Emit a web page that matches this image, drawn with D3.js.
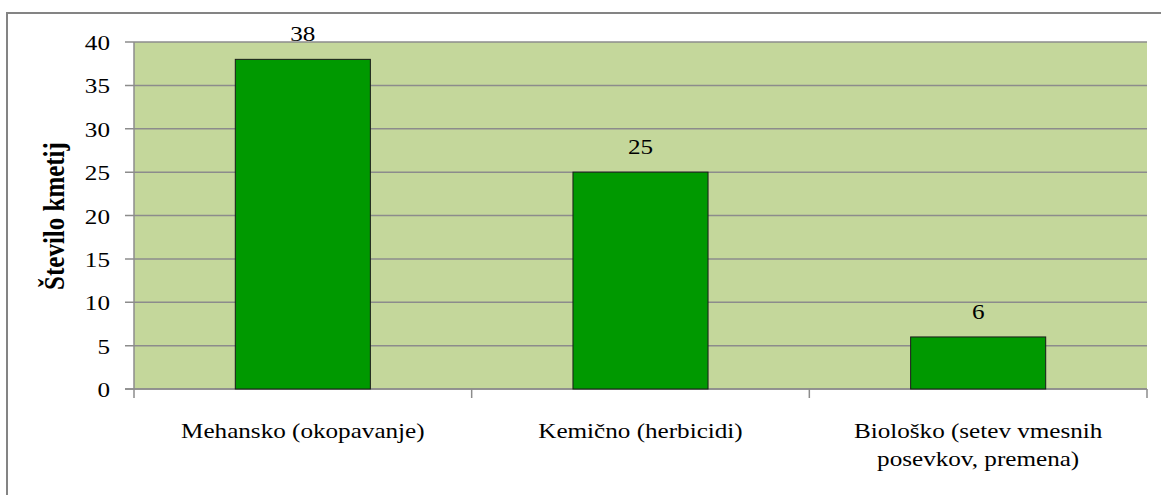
<!DOCTYPE html>
<meta charset="UTF-8">
<title>Število kmetij</title>
<style>
  body { margin: 0; background: #fff; }
</style>
<svg width="1161" height="495"></svg>
<script src="https://d3js.org/d3.v7.min.js"></script>
<script>
var categories = ["Mehansko (okopavanje)", "Kemično (herbicidi)", "Biološko (setev vmesnih posevkov, premena)"];
var labelLines = [["Mehansko (okopavanje)"], ["Kemično (herbicidi)"], ["Biološko (setev vmesnih", "posevkov, premena)"]];
var values = [38, 25, 6];
var yTicks = [0, 5, 10, 15, 20, 25, 30, 35, 40];
var yTitle = "Število kmetij";

var font = "'Liberation Serif', 'Times New Roman', 'DejaVu Serif', serif";

var svg = d3.select("svg"),
    margin = {top: 42, right: 14, bottom: 106, left: 134},
    width = 1161 - margin.left - margin.right,
    height = 495 - margin.top - margin.bottom,
    sx = 1.17; // the reference text is stretched horizontally

// outer chart frame
svg.append("rect")
    .attr("x", 7).attr("y", 13)
    .attr("width", 1180).attr("height", 520)
    .attr("fill", "none")
    .attr("stroke", "#848484")
    .attr("stroke-width", 2);

var g = svg.append("g").attr("transform", "translate(" + margin.left + "," + margin.top + ")");

var x = d3.scaleBand()
    .domain(categories)
    .range([0, width])
    .paddingInner(0.6)
    .paddingOuter(0.3);

var y = d3.scaleLinear()
    .domain([0, 40])
    .range([height, 0]);

g.append("rect")
    .attr("width", width)
    .attr("height", height)
    .attr("fill", "#c4d79b");

// gridlines + y ticks
g.selectAll(".grid")
  .data(yTicks)
  .enter().append("line")
    .attr("x1", -9)
    .attr("x2", width)
    .attr("y1", function(d) { return y(d); })
    .attr("y2", function(d) { return y(d); })
    .attr("stroke", "#8c8c8c")
    .attr("stroke-width", 1.5);

g.selectAll(".ylab")
  .data(yTicks)
  .enter().append("text")
    .attr("transform", function(d) { return "translate(-24," + (y(d) + 8) + ") scale(" + sx + ",1)"; })
    .attr("text-anchor", "end")
    .style("font-family", font)
    .style("font-size", "21.5px")
    .text(function(d) { return d; });

// y axis line
g.append("line")
    .attr("x1", 0).attr("x2", 0)
    .attr("y1", 0).attr("y2", height)
    .attr("stroke", "#8c8c8c")
    .attr("stroke-width", 1.5);

// x axis line and ticks at band boundaries
g.append("line")
    .attr("x1", -9).attr("x2", width)
    .attr("y1", height).attr("y2", height)
    .attr("stroke", "#8c8c8c")
    .attr("stroke-width", 1.5);

var bounds = d3.range(categories.length + 1);
g.selectAll(".xtick")
  .data(bounds)
  .enter().append("line")
    .attr("x1", function(i) { return i * width / categories.length; })
    .attr("x2", function(i) { return i * width / categories.length; })
    .attr("y1", height)
    .attr("y2", height + 9)
    .attr("stroke", "#8c8c8c")
    .attr("stroke-width", 1.5);

// bars
g.selectAll(".bar")
  .data(values)
  .enter().append("rect")
    .attr("x", function(d, i) { return x(categories[i]); })
    .attr("y", function(d) { return y(d); })
    .attr("width", x.bandwidth())
    .attr("height", function(d) { return height - y(d); })
    .attr("fill", "#009900")
    .attr("stroke", "#1a1a1a")
    .attr("stroke-width", 1);

// value labels
g.selectAll(".val")
  .data(values)
  .enter().append("text")
    .attr("transform", function(d, i) {
      return "translate(" + (x(categories[i]) + x.bandwidth() / 2) + "," + (y(d) - 18) + ") scale(" + sx + ",1)";
    })
    .attr("text-anchor", "middle")
    .style("font-family", font)
    .style("font-size", "21.5px")
    .text(function(d) { return d; });

// category labels
var cat = g.selectAll(".cat")
  .data(categories)
  .enter().append("text")
    .attr("transform", function(d) {
      return "translate(" + (x(d) + x.bandwidth() / 2) + "," + (height + 49) + ") scale(" + sx + ",1)";
    })
    .attr("text-anchor", "middle")
    .style("font-family", font)
    .style("font-size", "21.5px");

cat.selectAll("tspan")
  .data(function(d, i) { return labelLines[i]; })
  .enter().append("tspan")
    .attr("x", 0)
    .attr("dy", function(d, j) { return j ? 28.5 : 0; })
    .text(function(d) { return d; });

// y axis title
svg.append("text")
    .attr("transform", "translate(64,216) scale(" + sx + ",1) rotate(-90)")
    .attr("text-anchor", "middle")
    .style("font-family", font)
    .style("font-size", "25px")
    .style("font-weight", "bold")
    .text(yTitle);
</script>
